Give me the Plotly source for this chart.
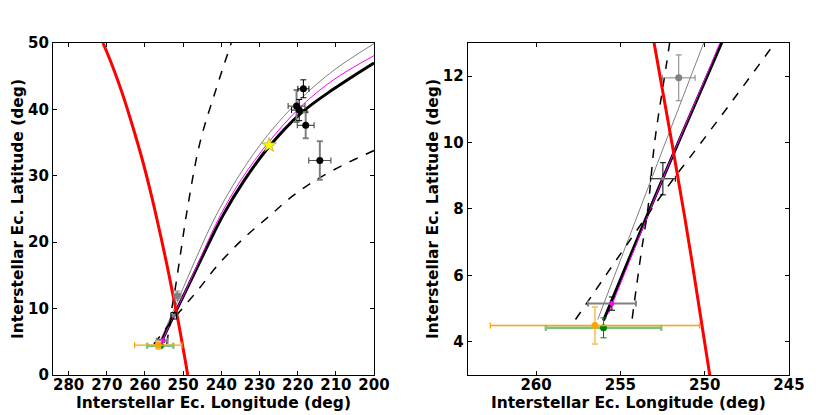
import plotly.graph_objects as go
from plotly.subplots import make_subplots

# curves (interstellar ecliptic lon / lat, deg)
red_lon = [248.8, 249.7, 251.2, 253.0, 254.4, 256.3, 258.3, 260.5, 263.0, 266.0, 268.5, 271.0]
red_lat = [0.0, 3.0, 7.8, 13.0, 17.0, 22.0, 27.0, 32.0, 37.0, 42.5, 46.5, 50.0]

black_lon = [256.0, 252.5, 249.0, 244.4, 239.6, 234.0, 227.9, 219.2, 210.5, 200.0]
black_lat = [4.64, 8.9, 13.0, 18.5, 24.0, 29.3, 34.1, 39.4, 43.1, 47.0]

magenta_lon = [255.7, 252.45, 249.1, 244.8, 240.3, 234.7, 227.7, 219.2, 210.5, 200.0]
magenta_lat = [4.85, 8.95, 13.0, 18.5, 24.0, 29.5, 35.0, 40.4, 44.5, 48.1]

gray_lon = [256.34, 253.2, 250.06, 245.9, 241.4, 235.4, 227.9, 219.2, 210.5, 200.0]
gray_lat = [4.67, 8.85, 13.0, 18.5, 24.0, 30.0, 36.1, 41.6, 45.9, 49.9]

dash1_lon = [254.3, 253.76, 253.37, 252.97, 252.08, 250.5, 248.9, 245.6, 241.4, 237.4]
dash1_lat = [4.7, 6.7, 8.0, 10.0, 13.0, 19.0, 25.0, 35.0, 43.0, 50.0]

dash2_lon = [257.66, 254.06, 251.98, 250.3, 245.84, 241.0, 234.5, 227.7, 221.2, 214.8, 207.5, 200.0]
dash2_lat = [4.67, 7.33, 8.82, 9.94, 13.0, 16.5, 20.4, 23.8, 27.0, 29.5, 31.8, 33.8]

# measurements with error bars
blk_lon = [218.5, 219.6]
blk_lat = [43.1, 39.9]
blk_xerr = [1.45, 2.0]
blk_yerr = [1.35, 1.6]

gry_lon = [220.3, 217.9, 214.2]
gry_lat = [40.5, 37.6, 32.3]
gry_xerr = [2.2, 2.2, 2.9]
gry_yerr = [2.4, 1.95, 2.9]

star_lon = [227.5]
star_lat = [34.6]

p_gray = (251.54, 11.95, 0.97, 0.69)
p_black = (252.48, 8.91, 0.74, 0.485)
p_magenta = (255.5, 5.15, 1.42, 0.2)
p_orange = (256.51, 4.49, 6.2, 0.56)
p_green = (256.0, 4.42, 3.42, 0.3)

fig = make_subplots(rows=1, cols=2)


def add_all(col):
    kw = dict(row=1, col=col)
    fig.add_trace(go.Scatter(x=gray_lon, y=gray_lat, mode="lines", line_shape="spline",
                             line=dict(color="gray", width=1)), **kw)
    fig.add_trace(go.Scatter(x=black_lon, y=black_lat, mode="lines", line_shape="spline",
                             line=dict(color="black", width=3)), **kw)
    fig.add_trace(go.Scatter(x=magenta_lon, y=magenta_lat, mode="lines", line_shape="spline",
                             line=dict(color="magenta", width=1)), **kw)
    fig.add_trace(go.Scatter(x=dash1_lon, y=dash1_lat, mode="lines", line_shape="spline",
                             line=dict(color="black", width=1.5, dash="dash")), **kw)
    fig.add_trace(go.Scatter(x=dash2_lon, y=dash2_lat, mode="lines", line_shape="spline",
                             line=dict(color="black", width=1.5, dash="dash")), **kw)
    fig.add_trace(go.Scatter(x=red_lon, y=red_lat, mode="lines", line_shape="spline",
                             line=dict(color="red", width=3)), **kw)

    fig.add_trace(go.Scatter(x=gry_lon, y=gry_lat, mode="markers",
                             marker=dict(color="black", size=7),
                             error_x=dict(type="data", array=gry_xerr, color="#555555", thickness=1.2, width=3),
                             error_y=dict(type="data", array=gry_yerr, color="gray", thickness=2, width=3)), **kw)
    fig.add_trace(go.Scatter(x=blk_lon, y=blk_lat, mode="markers",
                             marker=dict(color="black", size=7),
                             error_x=dict(type="data", array=blk_xerr, color="black", thickness=1, width=3),
                             error_y=dict(type="data", array=blk_yerr, color="black", thickness=1, width=3)), **kw)
    fig.add_trace(go.Scatter(x=star_lon, y=star_lat, mode="markers",
                             marker=dict(symbol="star", color="yellow", size=11,
                                         line=dict(color="#888800", width=0.5))), **kw)

    def pt(p, mcol, msize, xcol, xth, ycol, yth):
        fig.add_trace(go.Scatter(x=[p[0]], y=[p[1]], mode="markers",
                                 marker=dict(color=mcol, size=msize),
                                 error_x=dict(type="data", array=[p[2]], color=xcol, thickness=xth, width=3),
                                 error_y=dict(type="data", array=[p[3]], color=ycol, thickness=yth, width=3)), **kw)

    pt(p_gray, "gray", 7, "gray", 1, "gray", 1)
    pt(p_black, "gray", 4, "black", 1, "black", 1)
    pt(p_magenta, "magenta", 5, "gray", 2, "black", 1)
    pt(p_green, "green", 7, "#7fbf7f", 2.5, "green", 1)
    pt(p_orange, "#ffa500", 7, "#ffa500", 1.3, "#fbc97a", 2)


add_all(1)
add_all(2)

bold = dict(family="DejaVu Sans", size=15, color="black", weight="bold")
title_font = dict(family="DejaVu Sans", size=15.5, color="black", weight="bold")
axis_style = dict(showline=True, linecolor="black", linewidth=1, mirror="allticks",
                  ticks="inside", ticklen=4, tickcolor="black", showgrid=False,
                  zeroline=False, tickfont=bold, automargin=False)

fig.update_xaxes(axis_style)
fig.update_yaxes(axis_style)
fig.update_xaxes(ticklabelstandoff=-4)

# the page adds a small offset, so domains are nudged up/left to land on the reference box
ydom = [0.1157, 0.9157]
fig.update_xaxes(range=[284.1, 200], tickvals=[280, 270, 260, 250, 240, 230, 220, 210, 200],
                 domain=[0.0542, 0.4410],
                 title=dict(text="Interstellar Ec. Longitude (deg)", font=title_font, standoff=0),
                 row=1, col=1)
fig.update_yaxes(range=[0, 50], tickvals=[0, 10, 20, 30, 40, 50], domain=ydom,
                 title=dict(text="Interstellar Ec. Latitude (deg)", font=title_font, standoff=0),
                 row=1, col=1)
fig.update_xaxes(range=[264.05, 245], tickvals=[260, 255, 250, 245],
                 domain=[0.5539, 0.9410],
                 title=dict(text="Interstellar Ec. Longitude (deg)", font=title_font, standoff=0),
                 row=1, col=2)
fig.update_yaxes(range=[3.0, 13.0], tickvals=[4, 6, 8, 10, 12], domain=ydom,
                 title=dict(text="Interstellar Ec. Latitude (deg)", font=title_font, standoff=0),
                 row=1, col=2)

fig.update_layout(width=830, height=415, showlegend=False,
                  margin=dict(l=0, r=0, t=0, b=0),
                  plot_bgcolor="white", paper_bgcolor="white")

fig.write_html("out.html")
